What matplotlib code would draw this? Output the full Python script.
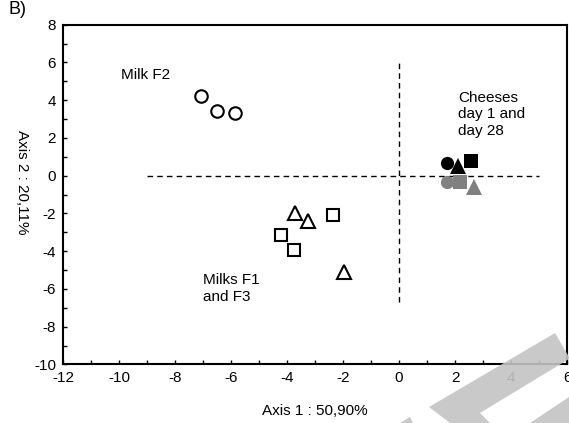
import matplotlib
matplotlib.use('Agg')
import matplotlib.pyplot as plt
from matplotlib.patches import Polygon

plt.rcParams['font.family'] = ['Liberation Sans', 'DejaVu Sans']
plt.rcParams['axes.unicode_minus'] = False

# ========== data ==========
milk_f2_x = [-7.08, -6.51, -5.87]
milk_f2_y = [4.21, 3.41, 3.31]

tri_open_x = [-3.70, -3.24, -1.96]
tri_open_y = [-1.98, -2.41, -5.11]
sq_open_x = [-2.35, -4.23, -3.74]
sq_open_y = [-2.09, -3.15, -3.94]

# cheeses: day 1 (black) and day 28 (grey)
cheese_x = {'circle': [1.71, 1.71], 'triangle': [2.10, 2.67], 'square': [2.56, 2.17]}
cheese_y = {'circle': [0.66, -0.34], 'triangle': [0.50, -0.61], 'square': [0.77, -0.34]}
cheese_col = ['black', '#808080']

xticks = list(range(-12, 7, 2))
yticks = list(range(-10, 9, 2))

# ========== figure ==========
fig = plt.figure(figsize=(5.69, 4.23), dpi=100)
ax = fig.add_axes([0.1107, 0.1383, 0.886, 0.8035])

ax.plot([-9, 5], [0, 0], color='black', lw=1, ls=(0, (4, 3)), zorder=1)
ax.plot([0, 0], [-6.7, 6], color='black', lw=1, ls=(0, (4, 3)), zorder=1)

ax.plot(milk_f2_x, milk_f2_y, 'o', ms=9, mfc='white', mec='black', mew=1.5, ls='none')
ax.plot(tri_open_x, tri_open_y, '^', ms=10.5, mfc='white', mec='black', mew=1.5, ls='none')
ax.plot(sq_open_x, sq_open_y, 's', ms=9, mfc='white', mec='black', mew=1.5, ls='none')

mk = {'circle': 'o', 'triangle': '^', 'square': 's'}
ms = {'circle': 9.5, 'triangle': 11, 'square': 9.5}
for shape in ['circle', 'square', 'triangle']:
    for i in range(2):
        ax.plot(cheese_x[shape][i], cheese_y[shape][i], mk[shape], ms=ms[shape],
                color=cheese_col[i], mew=0, zorder=3 + (shape == 'triangle'))

fs = 11
ax.text(-9.93, 5.32, 'Milk F2', fontsize=fs, va='center', ha='left')
ax.text(2.10, 3.25, 'Cheeses\nday 1 and\nday 28', fontsize=fs, va='center', ha='left', linespacing=1.2)
ax.text(-7.01, -5.98, 'Milks F1\nand F3', fontsize=fs, va='center', ha='left', linespacing=1.2)

ax.set_xlim(-12, 6)
ax.set_ylim(-10, 8)
ax.set_xticks(xticks)
ax.set_yticks(yticks)
ax.set_xticks(range(-12, 7), minor=True)
ax.set_yticks(range(-10, 9), minor=True)
ax.tick_params(which='both', direction='in', length=3, width=1, labelsize=11)
ax.tick_params(axis='x', pad=5)
ax.tick_params(axis='y', pad=5)
for s in ax.spines.values():
    s.set_linewidth(1.5)

ax.set_xlabel('Axis 1 : 50,90%', fontsize=11)
ax.xaxis.set_label_coords(0.5, -0.115)
ax.set_ylabel('Axis 2 : 20,11%', fontsize=11, rotation=270, va='center', ha='center')
ax.yaxis.set_label_coords(-0.082, 0.537)

fig.text(8 / 569, 1 - 10 / 423, 'B)', fontsize=13, va='center', ha='left')

# watermark stripes (figure pixels)
W, H = 569, 423
wm = [
    [(429, 407), (555, 333), (569, 357), (569, 359), (480, 413), (490, 423), (450, 423)],
    [(530, 423), (569, 397), (569, 423)],
    [(400, 423), (410, 417), (413, 423)],
]
for poly in wm:
    pts = [(x / W, 1 - y / H) for x, y in poly]
    fig.patches.append(Polygon(pts, closed=True, transform=fig.transFigure,
                               facecolor='#c4c4c4', edgecolor='none', alpha=0.9, zorder=10))

plt.savefig('out.png', dpi=100)
